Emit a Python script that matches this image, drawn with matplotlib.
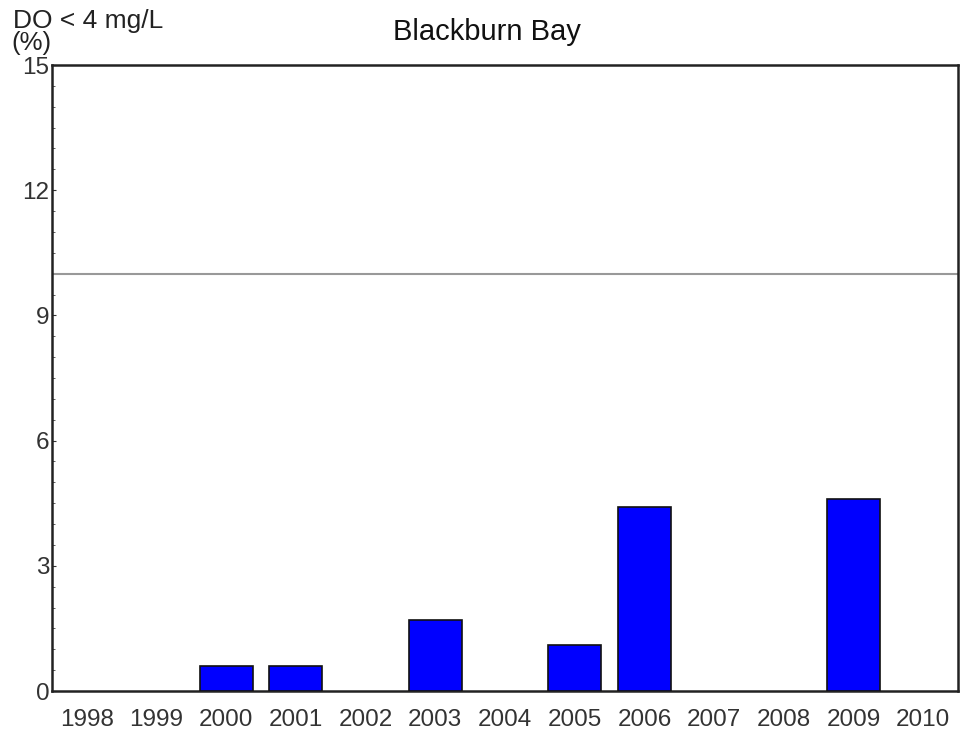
import matplotlib
matplotlib.use("Agg")
import matplotlib.pyplot as plt
from matplotlib.ticker import MultipleLocator

plt.rcParams['font.family'] = ['Liberation Sans', 'DejaVu Sans']

years = ['1998', '1999', '2000', '2001', '2002', '2003', '2004',
         '2005', '2006', '2007', '2008', '2009', '2010']
pct_low_do = [0, 0, 0.6, 0.6, 0, 1.7, 0, 1.1, 4.4, 0, 0, 4.6, 0]
threshold = 10
y_ticks = [0, 3, 6, 9, 12, 15]

fig = plt.figure(figsize=(9.61, 7.36), dpi=100)
ax = fig.add_axes([52 / 961, 1 - 691 / 736, (958 - 52) / 961, (691 - 65) / 736])

x = range(len(years))
# empty years get no outline so nothing is drawn on the baseline
edge_widths = [1.2 if v > 0 else 0 for v in pct_low_do]
ax.bar(x, pct_low_do, width=0.76, color='#0000ff', edgecolor='#111111',
       linewidth=edge_widths, zorder=3)
ax.axhline(threshold, color='#999999', linewidth=1.5, zorder=2)

ax.set_xlim(-0.5, len(years) - 0.5)
ax.set_ylim(0, 15)
ax.set_xticks(list(x))
ax.set_xticklabels(years)
ax.set_yticks(y_ticks)
ax.yaxis.set_minor_locator(MultipleLocator(0.5))
ax.tick_params(axis='x', length=0, pad=13, labelsize=17.5, colors='#333333')
ax.tick_params(axis='y', which='major', direction='in', length=3,
               pad=2, labelsize=17.5, colors='#333333')
ax.tick_params(axis='y', which='minor', direction='in', length=2,
               color='#444444')
for side in ax.spines.values():
    side.set_linewidth(1.8)
    side.set_color('#222222')

fig.text(13 / 961, 1 - 21 / 736, 'DO < 4 mg/L', fontsize=19,
         color='#222222', va='center', ha='left')
fig.text(11 / 961, 1 - 43 / 736, '(%)', fontsize=18.5,
         color='#222222', va='center', ha='left')
fig.text(487 / 961, 1 - 32 / 736, 'Blackburn Bay', fontsize=21,
         color='#111111', va='center', ha='center')

fig.savefig('out.png', dpi=100)
